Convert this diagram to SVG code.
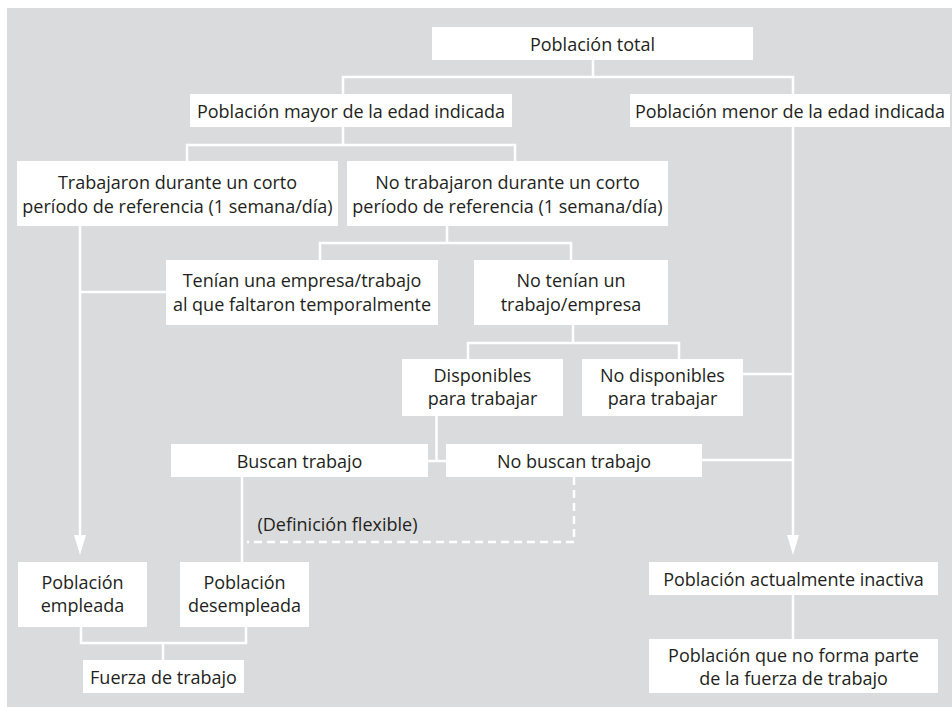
<svg xmlns="http://www.w3.org/2000/svg" width="952" height="707" viewBox="0 0 952 707">
<style>
.bg{fill:#dadbdd}
.box{fill:#ffffff}
text{font-family:"Open Sans","Noto Sans","Liberation Sans",sans-serif;font-size:18px;fill:#231f20;text-anchor:middle}
.c{fill:none;stroke:#ffffff;stroke-width:2.5}
.d{fill:none;stroke:#ffffff;stroke-width:2.5;stroke-dasharray:8 5}
</style>
<defs>
<marker id="arr" viewBox="0 0 20 12" refX="10" refY="6" markerWidth="20" markerHeight="12" markerUnits="userSpaceOnUse" orient="auto">
<path d="M0,0 L20,6 L0,12 z" fill="#ffffff"/>
</marker>
</defs>
<rect class="bg" x="7" y="8" width="945" height="699"/>
<g id="connectors">
<path class="c" d="M593,60 V77 M343,94 V77 H793 V94"/>
<path class="c" d="M343,127 V145 M187,161 V145 H515 V161"/>
<path class="c" d="M793,127 V545" marker-end="url(#arr)"/>
<path class="c" d="M80,226 V545" marker-end="url(#arr)"/>
<path class="c" d="M80,292 H166"/>
<path class="c" d="M447,226 V243 M320,260 V243 H571 V260"/>
<path class="c" d="M573,325 V343 M468,359 V343 H679 V359"/>
<path class="c" d="M743,374 H793"/>
<path class="c" d="M702,460 H793"/>
<path class="c" d="M436.5,416 V461 M428,461 H446"/>
<path class="c" d="M242,477 V562"/>
<path class="d" d="M574,477 V542 H247"/>
<path class="c" d="M81,627 V643 H246 V627 M163,643 V660"/>
<path class="c" d="M793,595 V639"/>
</g>
<g id="n-total"><rect class="box" x="432" y="27" width="321" height="33"/><text x="592.5" y="51">Población total</text></g>
<g id="n-mayor"><rect class="box" x="190" y="94" width="322" height="33"/><text x="351" y="118">Población mayor de la edad indicada</text></g>
<g id="n-menor"><rect class="box" x="630" y="94" width="320" height="33"/><text x="790" y="118">Población menor de la edad indicada</text></g>
<g id="n-trabajaron"><rect class="box" x="17" y="161" width="321" height="65"/><text x="177.5" y="189">Trabajaron durante un corto</text><text x="177.5" y="213">período de referencia (1 semana/día)</text></g>
<g id="n-notrabajaron"><rect class="box" x="347" y="161" width="321" height="65"/><text x="507.5" y="189">No trabajaron durante un corto</text><text x="507.5" y="213">período de referencia (1 semana/día)</text></g>
<g id="n-tenian"><rect class="box" x="166" y="260" width="272" height="65"/><text x="302" y="287">Tenían una empresa/trabajo</text><text x="302" y="311">al que faltaron temporalmente</text></g>
<g id="n-notenian"><rect class="box" x="474" y="260" width="194" height="65"/><text x="571" y="287">No tenían un</text><text x="571" y="311">trabajo/empresa</text></g>
<g id="n-disponibles"><rect class="box" x="402" y="359" width="161" height="57"/><text x="482.5" y="382">Disponibles</text><text x="482.5" y="405">para trabajar</text></g>
<g id="n-nodisponibles"><rect class="box" x="582" y="359" width="161" height="57"/><text x="662.5" y="382">No disponibles</text><text x="662.5" y="405">para trabajar</text></g>
<g id="n-buscan"><rect class="box" x="171" y="444" width="257" height="33"/><text x="299.5" y="468">Buscan trabajo</text></g>
<g id="n-nobuscan"><rect class="box" x="446" y="444" width="256" height="33"/><text x="574" y="468">No buscan trabajo</text></g>
<g id="l-flexible"><text x="337.5" y="531">(Definición flexible)</text></g>
<g id="n-empleada"><rect class="box" x="18" y="562" width="129" height="65"/><text x="82.5" y="589">Población</text><text x="82.5" y="612">empleada</text></g>
<g id="n-desempleada"><rect class="box" x="180" y="562" width="129" height="65"/><text x="244.5" y="589">Población</text><text x="244.5" y="612">desempleada</text></g>
<g id="n-fuerza"><rect class="box" x="83" y="660" width="161" height="33"/><text x="163.5" y="684">Fuerza de trabajo</text></g>
<g id="n-inactiva"><rect class="box" x="649" y="562" width="289" height="33"/><text x="793.5" y="586">Población actualmente inactiva</text></g>
<g id="n-noforma"><rect class="box" x="649" y="639" width="289" height="54"/><text x="793.5" y="662">Población que no forma parte</text><text x="793.5" y="685">de la fuerza de trabajo</text></g>
</svg>
